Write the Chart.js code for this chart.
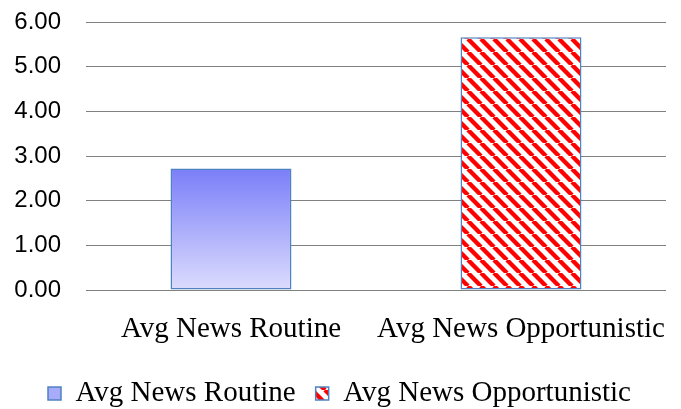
<!DOCTYPE html>
<html>
<head>
<meta charset="utf-8">
<script src="https://cdn.jsdelivr.net/npm/chart.js@4/dist/chart.umd.min.js"></script>
<style>
  html, body { margin: 0; padding: 0; background: #fff; }
  #wrap { width: 681px; height: 409px; }
</style>
</head>
<body>
<div id="wrap"><canvas id="c" width="681" height="409"></canvas></div>
<script>
// Average news counts per strategy
const categories = ['Avg News Routine', 'Avg News Opportunistic'];
const values = [2.72, 5.66];
const tickValues = [0, 1, 2, 3, 4, 5, 6];

const serif = '"Liberation Serif", "DejaVu Serif", serif';
const sans = '"Liberation Sans", Arial, sans-serif';
const edge = '#4f82c0';

// Red diagonal stripes on white
function stripePattern() {
  const p = 13;
  const tile = document.createElement('canvas');
  tile.width = p; tile.height = p;
  const t = tile.getContext('2d');
  t.fillStyle = '#ffffff';
  t.fillRect(0, 0, p, p);
  t.strokeStyle = '#ff0000';
  t.lineWidth = 4.4;
  for (let k = -1; k <= 1; k++) {
    t.beginPath();
    t.moveTo(k * p, 0);
    t.lineTo(k * p + p, p);
    t.stroke();
  }
  return t.createPattern(tile, 'repeat');
}

const ctx = document.getElementById('c').getContext('2d');
const stripes = stripePattern();

// Vertical lavender gradient for the first bar
function barFill(c) {
  if (c.dataIndex === 1) return stripes;
  const chart = c.chart;
  if (!chart.chartArea || !chart.scales.y) return '#a8aafa';
  const y = chart.scales.y;
  const top = y.getPixelForValue(values[0]);
  const bottom = y.getPixelForValue(0);
  const g = chart.ctx.createLinearGradient(0, top, 0, bottom);
  g.addColorStop(0, '#7a7ef8');
  g.addColorStop(1, '#dcdcfd');
  return g;
}

new Chart(ctx, {
  type: 'bar',
  data: {
    labels: categories,
    datasets: [{
      data: values,
      backgroundColor: barFill,
      borderColor: edge,
      borderWidth: 1.5,
      borderSkipped: false,
      barPercentage: 0.417,
      categoryPercentage: 1.0
    }]
  },
  options: {
    responsive: false,
    animation: false,
    layout: { padding: { top: 0, right: 15, left: 13, bottom: -9 } },
    plugins: {
      tooltip: { enabled: false },
      legend: {
        display: true,
        position: 'bottom',
        labels: {
          font: { family: serif, size: 29 },
          color: '#000',
          boxWidth: 13,
          boxHeight: 13,
          padding: 20,
          generateLabels: () => categories.map((name, i) => ({
            text: name,
            fillStyle: i === 0 ? '#a8aafa' : stripes,
            strokeStyle: edge,
            lineWidth: 1.5,
            hidden: false,
            index: i,
            datasetIndex: 0
          }))
        }
      }
    },
    scales: {
      x: {
        grid: { display: false, drawTicks: false },
        border: { display: false },
        afterFit: (axis) => { axis.height = 69; axis.paddingLeft = 0; axis.paddingRight = 0; },
        ticks: {
          font: { family: serif, size: 29 },
          color: '#000',
          padding: 22,
          maxRotation: 0,
          autoSkip: false
        }
      },
      y: {
        min: 0,
        max: 6,
        afterBuildTicks: (axis) => { axis.ticks = tickValues.map(v => ({ value: v })); },
        afterFit: (axis) => { axis.width = 73; axis.paddingTop = 22; axis.paddingBottom = 0; },
        grid: { color: '#808080', lineWidth: 1, drawTicks: false },
        border: { display: false },
        ticks: {
          font: { family: sans, size: 24 },
          color: '#000',
          padding: 25,
          callback: (v) => Number(v).toFixed(2)
        }
      }
    }
  }
});
</script>
</body>
</html>
